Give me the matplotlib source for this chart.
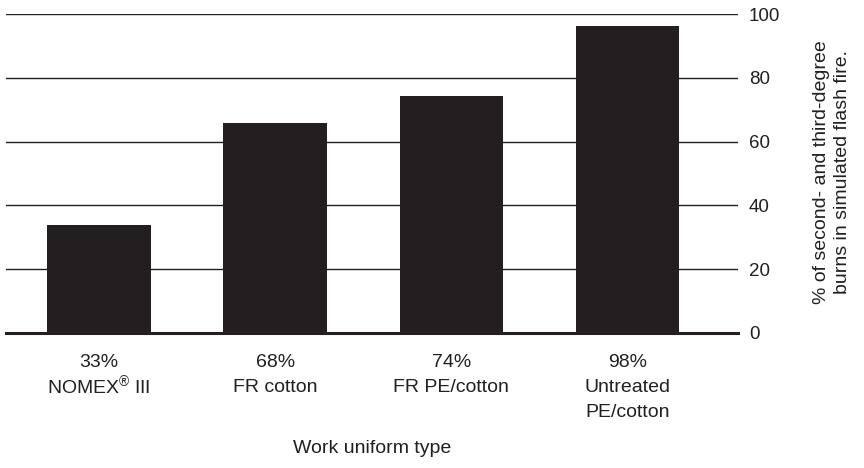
import matplotlib
matplotlib.use('agg')
import matplotlib.pyplot as plt

plt.rcParams['font.family'] = ['Liberation Sans', 'DejaVu Sans']
plt.rcParams['mathtext.fontset'] = 'custom'
plt.rcParams['mathtext.rm'] = 'Liberation Sans'
plt.rcParams['mathtext.default'] = 'regular'

# data
categories = ['33%\nNOMEX$^{®}$ III', '68%\nFR cotton', '74%\nFR PE/cotton',
              '98%\nUntreated\nPE/cotton']
burns = [33.8, 65.9, 74.2, 96.3]
yticks = [0, 20, 40, 60, 80, 100]

ink = '#231f20'

fig = plt.figure(figsize=(8.64, 4.68), dpi=100)
ax = fig.add_axes([0.0069, 0.2891, 0.8469, 0.6803])

x = range(len(categories))
ax.bar(x, burns, width=0.587, color=ink, zorder=3)

ax.set_xlim(-0.527, 3.624)
ax.set_ylim(0, 100)
ax.set_yticks(yticks)
ax.yaxis.tick_right()
ax.yaxis.grid(True, color=ink, linewidth=1.0, zorder=1)
ax.set_axisbelow(True)
ax.tick_params(axis='y', length=0, pad=8, labelsize=13.5, colors=ink)

ax.set_xticks(list(x))
ax.set_xticklabels(categories, fontsize=14, color=ink, linespacing=1.6)
ax.tick_params(axis='x', length=0, pad=15.5)
# superscript makes the NOMEX line taller, pull it back up
ax.get_xticklabels()[0].set_linespacing(1.17)

for side in ['top', 'left', 'right']:
    ax.spines[side].set_visible(False)
ax.spines['bottom'].set_linewidth(2.2)
ax.spines['bottom'].set_color(ink)
ax.spines['bottom'].set_zorder(4)

ax.set_xlabel('Work uniform type', fontsize=14, color=ink, labelpad=14)

fig.text(0.963, 0.632, '% of second- and third-degree\nburns in simulated flash fire.',
         rotation=90, ha='center', va='center', multialignment='center',
         fontsize=14, color=ink, linespacing=1.35)

plt.savefig('out.png', dpi=100)
plt.close()
